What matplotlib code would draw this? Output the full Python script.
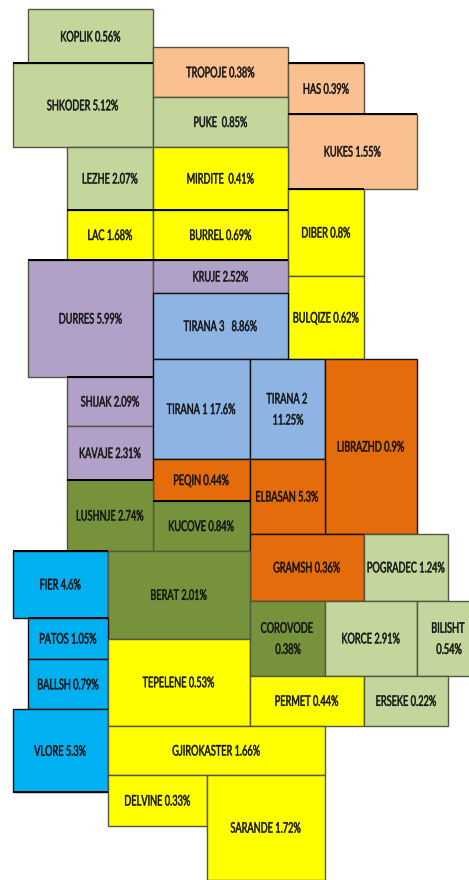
import matplotlib
matplotlib.use("Agg")
import matplotlib.pyplot as plt
from matplotlib.patheffects import AbstractPathEffect
from matplotlib.transforms import Affine2D

# districts and their share
names = ["KOPLIK", "SHKODER", "TROPOJE", "HAS", "PUKE", "KUKES", "LEZHE", "MIRDITE", "LAC", "BURREL",
         "DIBER", "BULQIZE", "DURRES", "KRUJE", "TIRANA 3 ", "SHIJAK", "KAVAJE", "TIRANA 1", "TIRANA 2\n",
         "LIBRAZHD", "PEQIN", "KUCOVE", "ELBASAN", "LUSHNJE", "GRAMSH", "POGRADEC", "FIER", "BERAT",
         "PATOS", "BALLSH", "VLORE", "TEPELENE", "COROVODE\n", "KORCE", "BILISHT\n", "PERMET", "ERSEKE",
         "GJIROKASTER", "DELVINE", "SARANDE"]
shares = ["0.56%", "5.12%", "0.38%", "0.39%", " 0.85%", "1.55%", "2.07%", " 0.41%", "1.68%", "0.69%",
          "0.8%", "0.62%", "5.99%", "2.52%", " 8.86%", "2.09%", "2.31%", "17.6%", "11.25%",
          "0.9%", "0.44%", "0.84%", "5.3%", "2.74%", "0.36%", "1.24%", "4.6%", "2.01%",
          "1.05%", "0.79%", "5.3%", "0.53%", "0.38%", "2.91%", "0.54%", "0.44%", "0.22%",
          "1.66%", "0.33%", "1.72%"]
groups = ["sage", "sage", "peach", "peach", "sage", "peach", "sage", "yellow", "yellow", "yellow",
          "yellow", "yellow", "purple", "purple", "blue", "purple", "purple", "blue", "blue",
          "orange", "orange", "olive", "orange", "olive", "orange", "sage", "cyan", "olive",
          "cyan", "cyan", "cyan", "yellow", "olive", "sage", "sage", "yellow", "sage",
          "yellow", "yellow", "yellow"]

# cell extents of the map layout, in the same order as names
left = [28, 12.5, 153, 288, 153, 288, 67, 153, 67, 153,
        288, 288, 28, 153, 153, 67, 67, 153, 249.5,
        324.5, 153, 153, 249.5, 67, 249.5, 364, 12.5, 108,
        28, 28, 12.5, 108, 249.5, 324.5, 417, 249.5, 364,
        108, 108, 207]
right = [153, 153, 288, 364, 288, 417, 153, 288, 153, 288,
         364, 364, 153, 288, 288, 153, 153, 249.5, 324.5,
         417, 249.5, 249.5, 324.5, 153, 364, 448, 108, 249.5,
         108, 108, 108, 249.5, 324.5, 417, 479, 364, 448,
         324.5, 207, 324.5]
top = [9.5, 63.5, 47.5, 63.5, 97, 114, 147, 147, 210, 210,
       189, 276, 260, 260, 293, 377, 426, 359, 359,
       359, 459, 501, 459, 480, 534, 534, 551, 551,
       617.7, 659.3, 709.3, 638.7, 600.7, 600.7, 600.7, 676, 676,
       725.7, 775.3, 775.3]
bottom = [63.5, 147, 97, 114, 147, 189, 210, 210, 260, 260,
          276, 359, 377, 293, 359, 426, 480, 459, 459,
          534, 501, 551, 534, 551, 600.7, 600.7, 617.7, 638.7,
          659.3, 709.3, 792.3, 725.7, 676, 676, 676, 725.7, 725.7,
          775.3, 825.7, 880]

# cells whose top border is drawn heavier in the original
heavy_tops = ["SHKODER", "HAS", "KUKES", "DIBER", "LAC", "BURREL", "DURRES", "KRUJE", "SHIJAK",
              "LUSHNJE", "KUCOVE", "PATOS", "FIER"]

palette = {"sage": "#C3D69B", "peach": "#FAC090", "yellow": "#FFFF00", "purple": "#B1A0C7",
           "blue": "#8DB4E2", "orange": "#E46C0A", "olive": "#76933C", "cyan": "#00B0F0"}
black_edges = ["blue", "orange", "cyan"]


# the labels in the original are horizontally squeezed, no condensed font here so squeeze the glyphs
class Squeeze(AbstractPathEffect):
    def __init__(self, cx, sx):
        super().__init__()
        self.cx = cx
        self.sx = sx

    def draw_path(self, renderer, gc, tpath, affine, rgbFace=None):
        squeezed = affine + Affine2D().translate(-self.cx, 0).scale(self.sx, 1).translate(self.cx, 0)
        gc0 = renderer.new_gc()
        gc0.copy_properties(gc)
        gc0.set_linewidth(0.35)
        gc0.set_foreground("#111111")
        renderer.draw_path(gc0, tpath, squeezed, rgbFace)
        gc0.restore()


fig = plt.figure(figsize=(4.69, 8.80), dpi=100)
ax = fig.add_axes([0, 0, 1, 1])
ax.set_xlim(0, 469)
ax.set_ylim(880, 0)
ax.axis("off")

for i in range(len(names)):
    edge = "#111111" if groups[i] in black_edges else "#555544"
    ax.bar(left[i], bottom[i] - top[i], width=right[i] - left[i], bottom=top[i], align="edge",
           color=palette[groups[i]], edgecolor=edge, linewidth=1.0)

for i in range(len(names)):
    if names[i] in heavy_tops:
        ax.hlines(top[i], left[i], right[i], color="black", linewidth=1.4, zorder=2.5)
    if names[i] == "VLORE":
        ax.hlines(bottom[i], left[i], right[i], color="black", linewidth=1.4, zorder=2.5)

    cx = (left[i] + right[i]) / 2
    cy = (top[i] + bottom[i]) / 2 + 1
    t = ax.text(cx, cy, names[i] + " " + shares[i], ha="center", va="center", family=["Lato", "DejaVu Sans"],
                fontsize=10.5, color="#111111", linespacing=1.65)
    t.set_path_effects([Squeeze(ax.transData.transform((cx, cy))[0], 0.63)])

fig.savefig("out.png", dpi=100)
